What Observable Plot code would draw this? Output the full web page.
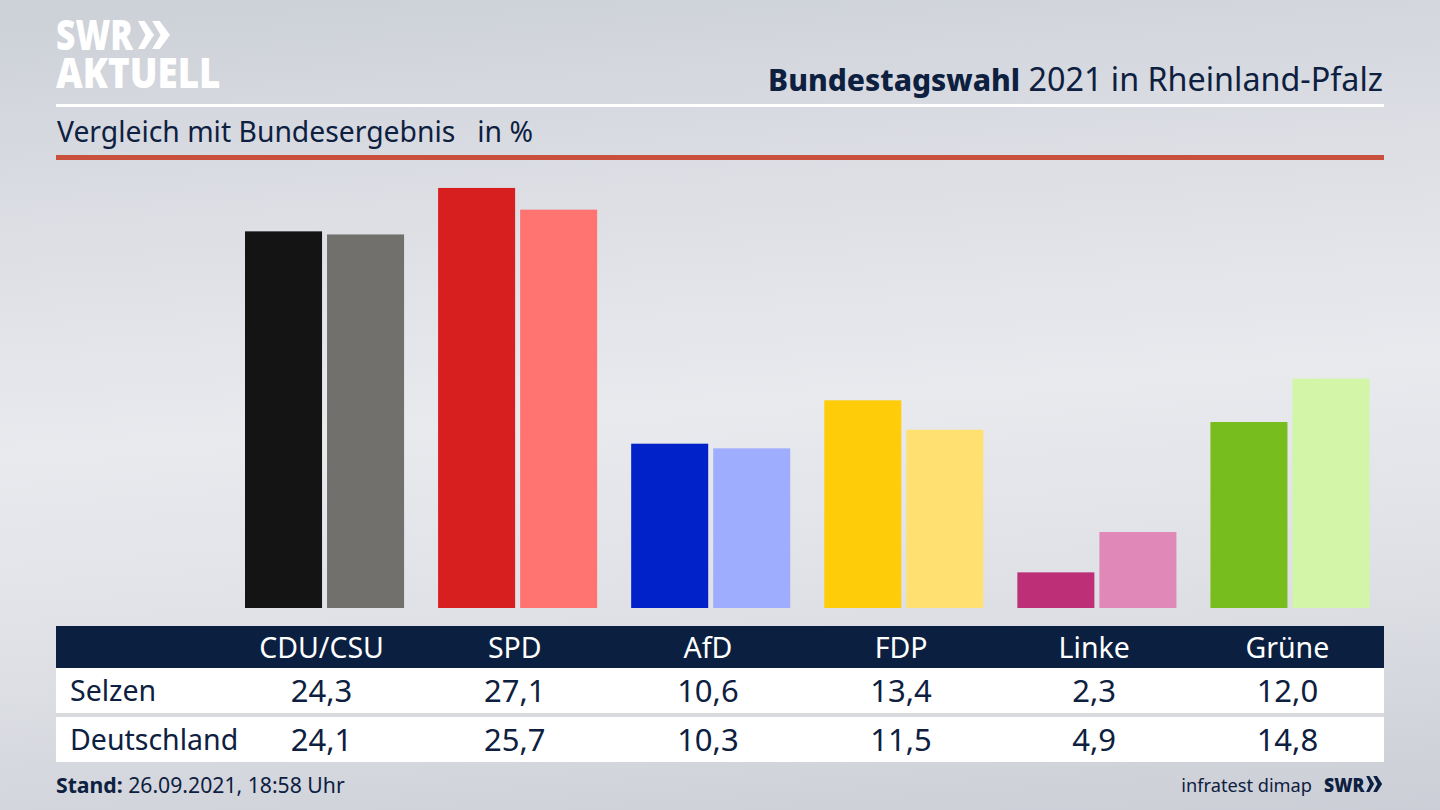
<!DOCTYPE html>
<html lang="de">
<head>
<meta charset="utf-8">
<title>Bundestagswahl 2021 in Rheinland-Pfalz</title>
<script src="https://cdn.jsdelivr.net/npm/d3@7"></script>
<script src="https://cdn.jsdelivr.net/npm/@observablehq/plot@0.6"></script>
<style>
  html, body { margin: 0; padding: 0; }
  body { width: 1440px; height: 810px; overflow: hidden; position: relative; color: #0d2040;
    font-family: "Noto Sans", sans-serif;
    background: linear-gradient(176deg, #ccd0d7 0%, #dcdee4 25%, #e9eaee 50%, #dfe1e6 72%, #cbced6 100%); }
  .abs { position: absolute; white-space: nowrap; }
  #chart { position: absolute; left: 0; top: 0; }
  .logo { left: 56px; color: #fff; font-family: "Open Sans", sans-serif; font-weight: 800; font-size: 42px; line-height: 37px; transform-origin: left top; }
  #title { right: 57px; top: 56px; font-size: 32.3px; line-height: 44px; }
  #title b { font-weight: 800; font-size: 30px; }
  #subtitle { left: 57px; top: 111px; font-size: 28.3px; line-height: 40px; }
  .rule { position: absolute; left: 56px; width: 1328px; }
  #stand { left: 56px; top: 770px; font-size: 21.2px; line-height: 30px; }
  #source { right: 128px; top: 770px; font-size: 18.2px; line-height: 30px; }
  #swr { left: 1324px; top: 770px; font-size: 20px; line-height: 30px; font-family: "Open Sans", sans-serif; font-weight: 800; transform: scaleX(.88); transform-origin: left top; }
  table { position: absolute; left: 56px; top: 626px; width: 1328px; border-collapse: collapse; table-layout: fixed; }
  th { background: #0b2040; color: #fff; font-weight: 400; height: 42px; padding: 0; font-size: 28.5px; }
  td { background: #fff; text-align: center; padding: 0 0 2px; height: 43px; font-size: 31px; }
  td:first-child { text-align: left; padding-left: 14px; font-size: 28.5px; }
  tr.sep td { border-top: 4px solid #d9dade; }
  col.lab { width: 169px; }
</style>
</head>
<body>
<div id="chart"></div>
<div class="abs logo" style="top:15px;transform:scaleX(.8)">SWR</div>
<svg class="abs" style="left:138px;top:20px" width="32" height="30" viewBox="0 0 34 30"><path fill="#fff" d="M0 0h7l10 15L7 30H0l8-15zM15 0h8l11 15-11 15h-8l9-15z"/></svg>
<div class="abs logo" style="top:53px;transform:scaleX(.875)">AKTUELL</div>
<div class="abs" id="title"><b>Bundestagswahl</b> 2021 in Rheinland-Pfalz</div>
<div class="rule" style="top:104px;height:3px;background:#fff"></div>
<div class="abs" id="subtitle">Vergleich mit Bundesergebnis&nbsp;&nbsp; in %</div>
<div class="rule" style="top:155px;height:5px;background:#c8503c"></div>
<table id="results"></table>
<div class="abs" id="stand"><b>Stand:</b> 26.09.2021, 18:58 Uhr</div>
<div class="abs" id="source">infratest dimap</div>
<div class="abs" id="swr">SWR<svg width="20" height="16" viewBox="0 0 34 30" style="margin-left:1px"><path fill="#0d2040" d="M0 0h7l10 15L7 30H0l8-15zM15 0h8l11 15-11 15h-8l9-15z"/></svg></div>
<script>
const parties = ["CDU/CSU", "SPD", "AfD", "FDP", "Linke", "Grüne"];
const seriesNames = ["Selzen", "Deutschland"];
const selzen = [24.3, 27.1, 10.6, 13.4, 2.3, 12.0];
const deutschland = [24.1, 25.7, 10.3, 11.5, 4.9, 14.8];
const colorsSelzen = ["#141414", "#d81f1f", "#0022c8", "#ffcc0a", "#bd3078", "#78bd1e"];
const colorsDeutschland = ["#72706d", "#ff7370", "#9fadff", "#ffe070", "#e088b8", "#d3f5a8"];

const rows = parties.flatMap((party, i) => [
  { party, series: seriesNames[0], value: selzen[i], color: colorsSelzen[i] },
  { party, series: seriesNames[1], value: deutschland[i], color: colorsDeutschland[i] }
]);

// bars: one facet per party, two bars each
document.getElementById("chart").appendChild(Plot.plot({
  width: 1440, height: 620,
  marginLeft: 245, marginRight: 70.5, marginTop: 174, marginBottom: 12,
  style: { background: "transparent" },
  fx: { domain: parties, paddingInner: 34 / 193, paddingOuter: 0, axis: null, label: null, round: false },
  x: { domain: seriesNames, paddingInner: 5 / 82, paddingOuter: 0, axis: null, label: null, round: false },
  y: { domain: [0, 28], axis: null, label: null },
  marks: [
    Plot.barY(rows, { fx: "party", x: "series", y: "value", fill: d => d.color })
  ]
}));

// table below the bars
const fmt = v => v.toFixed(1).replace(".", ",");
const table = d3.select("#results");
const colgroup = table.append("colgroup");
colgroup.append("col").attr("class", "lab");
parties.forEach(() => colgroup.append("col"));
const head = table.append("tr");
head.append("th");
parties.forEach(p => head.append("th").text(p));
[selzen, deutschland].forEach((vals, i) => {
  const tr = table.append("tr").attr("class", i ? "sep" : null);
  tr.append("td").text(seriesNames[i]);
  vals.forEach(v => tr.append("td").text(fmt(v)));
});
</script>
</body>
</html>
